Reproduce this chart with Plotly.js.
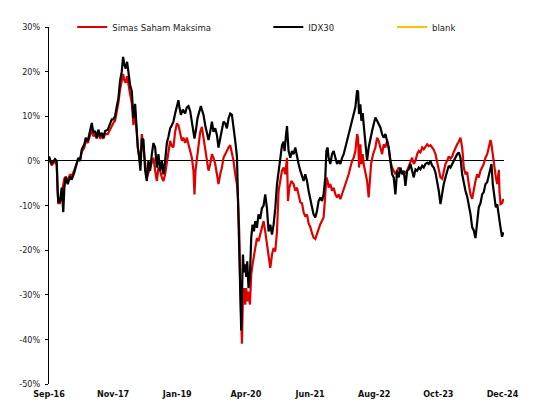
<!DOCTYPE html>
<html>
<head>
<meta charset="utf-8">
<script src="https://cdn.plot.ly/plotly-3.0.1.min.js"></script>
<style>
  html, body { margin: 0; padding: 0; background: #ffffff; }
  #chart { width: 539px; height: 412px; }
</style>
</head>
<body>
<div id="chart"></div>
<script>
// X values are decimal years, Y values are cumulative relative performance in %
var idxX = [2016.667,2016.716,2016.776,2016.807,2016.825,2016.836,2016.867,2016.898,2016.927,2016.946,2016.971,2017.008,2017.049,2017.080,2017.128,2017.171,2017.200,2017.231,2017.263,2017.310,2017.335,2017.372,2017.414,2017.445,2017.474,2017.505,2017.536,2017.565,2017.596,2017.627,2017.656,2017.687,2017.736,2017.778,2017.809,2017.838,2017.869,2017.900,2017.929,2017.960,2017.991,2018.015,2018.039,2018.064,2018.088,2018.111,2018.142,2018.173,2018.203,2018.234,2018.252,2018.283,2018.306,2018.330,2018.356,2018.385,2018.416,2018.447,2018.476,2018.507,2018.538,2018.567,2018.598,2018.629,2018.658,2018.689,2018.720,2018.749,2018.780,2018.811,2018.840,2018.871,2018.902,2018.931,2018.962,2018.993,2019.022,2019.040,2019.066,2019.102,2019.144,2019.175,2019.204,2019.235,2019.266,2019.295,2019.314,2019.345,2019.368,2019.405,2019.430,2019.448,2019.478,2019.509,2019.540,2019.569,2019.600,2019.631,2019.660,2019.691,2019.722,2019.751,2019.782,2019.813,2019.842,2019.873,2019.904,2019.933,2019.964,2019.995,2020.024,2020.055,2020.086,2020.104,2020.128,2020.146,2020.164,2020.177,2020.195,2020.214,2020.237,2020.255,2020.274,2020.297,2020.323,2020.346,2020.370,2020.396,2020.419,2020.450,2020.479,2020.510,2020.541,2020.571,2020.601,2020.632,2020.662,2020.693,2020.724,2020.753,2020.784,2020.815,2020.844,2020.875,2020.906,2020.935,2020.953,2020.979,2020.997,2021.026,2021.057,2021.088,2021.117,2021.148,2021.179,2021.208,2021.239,2021.270,2021.299,2021.330,2021.361,2021.390,2021.421,2021.452,2021.481,2021.512,2021.543,2021.572,2021.603,2021.634,2021.663,2021.694,2021.713,2021.736,2021.754,2021.785,2021.816,2021.846,2021.877,2021.908,2021.937,2021.968,2021.999,2022.028,2022.059,2022.090,2022.119,2022.150,2022.181,2022.210,2022.241,2022.272,2022.290,2022.308,2022.332,2022.350,2022.374,2022.392,2022.423,2022.454,2022.483,2022.514,2022.545,2022.574,2022.605,2022.636,2022.665,2022.696,2022.727,2022.756,2022.787,2022.818,2022.847,2022.878,2022.909,2022.938,2022.969,2023.000,2023.030,2023.061,2023.091,2023.121,2023.152,2023.183,2023.212,2023.243,2023.273,2023.303,2023.334,2023.365,2023.394,2023.425,2023.456,2023.485,2023.516,2023.547,2023.576,2023.607,2023.638,2023.667,2023.698,2023.729,2023.758,2023.789,2023.820,2023.849,2023.880,2023.911,2023.940,2023.971,2024.002,2024.031,2024.062,2024.093,2024.122,2024.153,2024.184,2024.213,2024.244,2024.275,2024.304,2024.335,2024.366,2024.395,2024.426,2024.457,2024.486,2024.517,2024.548,2024.577,2024.608,2024.639,2024.668,2024.699,2024.717,2024.741,2024.772,2024.796,2024.821,2024.851,2024.882,2024.909,2024.936];
var idxY = [1.0,-0.7,0.4,0,-6.7,-9.3,-9.0,-6.0,-11.5,-6.0,-3.7,-5.2,-3.5,-4.2,-2.6,-0.4,0.7,0,2.6,3.7,5.2,4.4,6.7,8.5,6.3,6.7,5.2,7.0,5.5,6.3,5.2,6.7,7.0,8.1,9.3,9.3,10.0,12.2,14.0,18.0,20.0,23.3,21.5,20.7,22.2,20.0,17.0,15.6,9.6,12.8,8.5,3.0,1.1,-2.2,5.0,4.7,-2.2,-4.5,0,-2.2,1.5,4.0,3.0,-1.5,1.5,-2.2,0,-3.0,0,4.0,5.4,7.3,8.0,8.8,10.6,12.5,13.6,12.0,10.3,11.5,10.6,12.0,12.3,11.2,8.8,6.5,5.0,7.3,9.5,11.2,12.3,11.5,10.3,8.0,5.8,4.7,6.5,8.8,6.5,7.3,5.8,3.0,5.0,7.3,8.8,8.4,7.3,9.5,10.6,10.3,7.8,4.5,1.0,-8.3,-19.5,-27,-38,-30.6,-21,-25,-23.2,-26,-22.5,-28.5,-25.5,-17.3,-14.3,-15.8,-13.5,-15,-12,-13,-10.6,-10,-7.5,-10.6,-15.8,-14.3,-16.5,-14.3,-10.6,-5.2,-2.2,0,3.5,4.3,2.2,5.8,7.8,2.2,0.7,2.2,1.5,3.0,0.7,-0.7,-2.2,-3.7,-4.5,-3.0,-4.5,-6.7,-9.0,-10.4,-12.0,-12.7,-11.2,-9.0,-8.2,-9.0,-7.5,-3.7,2.2,3.0,0.7,-0.7,1.5,2.2,0.7,-0.7,0,-0.7,0.7,1.5,3.0,4.5,6.0,7.5,9.0,10.7,12.0,15.8,15.5,10.5,12.7,9.0,10.7,8.2,3.0,0,3.0,5.2,6.7,8.2,9.7,9.0,8.2,7.5,6.0,5.2,6.0,4.5,3.0,0,-3.0,-3.7,-7.5,-2.2,-3.7,-1.5,-3.0,-2.2,-5.6,-2.2,-1.9,-0.7,-2.6,-3.7,-1.9,-2.2,-1.5,-1.9,-1.1,-1.5,-0.7,-0.4,-0.7,0,-1.1,-1.5,-2.6,-4.5,-6.7,-9.7,-6.7,-5.2,-3.7,-2.2,-1.1,-1.5,-0.7,0,0.7,1.5,1.9,0.7,-3.0,-5.0,-6.7,-8.0,-9.7,-11.9,-14.9,-15.6,-17.3,-13.0,-10.4,-9.5,-7.5,-7.0,-5.2,-4.8,-3.0,-1.0,-0.7,-5.2,-8.2,-10.4,-9.7,-12.7,-15.0,-17.0,-16.0];

var fundX = [2016.667,2016.716,2016.776,2016.807,2016.825,2016.836,2016.867,2016.898,2016.927,2016.946,2016.971,2017.008,2017.049,2017.080,2017.128,2017.171,2017.200,2017.231,2017.263,2017.310,2017.335,2017.372,2017.414,2017.445,2017.474,2017.505,2017.536,2017.565,2017.596,2017.627,2017.656,2017.687,2017.736,2017.778,2017.809,2017.838,2017.869,2017.900,2017.929,2017.960,2017.991,2018.015,2018.039,2018.064,2018.088,2018.111,2018.142,2018.173,2018.203,2018.234,2018.252,2018.283,2018.306,2018.330,2018.356,2018.385,2018.447,2018.507,2018.567,2018.598,2018.629,2018.658,2018.689,2018.720,2018.749,2018.780,2018.811,2018.840,2018.871,2018.902,2018.931,2018.962,2018.993,2019.022,2019.053,2019.084,2019.113,2019.144,2019.175,2019.204,2019.235,2019.266,2019.295,2019.314,2019.332,2019.357,2019.387,2019.418,2019.448,2019.478,2019.509,2019.540,2019.569,2019.600,2019.631,2019.660,2019.691,2019.722,2019.751,2019.782,2019.813,2019.842,2019.873,2019.904,2019.933,2019.964,2019.995,2020.024,2020.055,2020.086,2020.104,2020.128,2020.146,2020.177,2020.195,2020.214,2020.237,2020.255,2020.274,2020.297,2020.323,2020.346,2020.370,2020.396,2020.419,2020.450,2020.479,2020.510,2020.541,2020.571,2020.601,2020.632,2020.662,2020.693,2020.724,2020.753,2020.784,2020.815,2020.844,2020.875,2020.906,2020.935,2020.966,2020.997,2021.015,2021.039,2021.075,2021.117,2021.148,2021.179,2021.208,2021.239,2021.270,2021.299,2021.330,2021.361,2021.390,2021.421,2021.452,2021.481,2021.512,2021.543,2021.572,2021.603,2021.634,2021.663,2021.694,2021.713,2021.736,2021.754,2021.785,2021.816,2021.846,2021.877,2021.908,2021.937,2021.968,2021.999,2022.028,2022.059,2022.090,2022.119,2022.150,2022.181,2022.210,2022.241,2022.272,2022.290,2022.308,2022.332,2022.350,2022.374,2022.392,2022.423,2022.454,2022.483,2022.501,2022.527,2022.563,2022.605,2022.636,2022.665,2022.696,2022.727,2022.756,2022.787,2022.818,2022.847,2022.878,2022.909,2022.938,2022.969,2023.000,2023.030,2023.061,2023.121,2023.183,2023.243,2023.273,2023.303,2023.334,2023.365,2023.394,2023.425,2023.456,2023.485,2023.516,2023.547,2023.576,2023.607,2023.638,2023.667,2023.698,2023.729,2023.758,2023.789,2023.820,2023.849,2023.880,2023.911,2023.940,2023.971,2024.002,2024.031,2024.062,2024.093,2024.122,2024.153,2024.184,2024.213,2024.244,2024.275,2024.304,2024.335,2024.366,2024.395,2024.426,2024.457,2024.486,2024.517,2024.548,2024.577,2024.608,2024.639,2024.668,2024.699,2024.717,2024.741,2024.772,2024.796,2024.821,2024.851,2024.863,2024.882,2024.909,2024.936];
var fundY = [0.5,-1.0,0,-1.0,-7.0,-9.5,-9.5,-7.0,-5.0,-4.0,-3.5,-4.5,-3.0,-3.5,-2.0,-0.5,0.5,0,2.0,3.0,4.5,4.0,6.0,7.0,5.5,6.0,5.0,6.5,5.0,5.5,5.0,6.0,6.0,7.0,8.0,8.5,9.0,11.0,13.0,16.0,18.0,19.5,18.0,17.5,19.0,17.0,15.0,13.0,8.0,11.0,7.5,3.0,1.0,-1.0,6.0,3.0,-3.7,-1.5,0.7,-2.2,-4.5,-1.5,-2.2,-3.7,-4.5,-3.0,-0.7,2.2,4.5,3.3,3.0,6.5,8.4,8.0,6.5,4.5,5.2,4.0,5.2,3.7,2.6,0.7,-2.2,-7.5,-2.2,0.7,3.7,6.5,7.6,5.2,3.0,0,-2.2,-0.7,1.5,0.7,-0.7,-3.0,-5.2,-3.0,-1.5,0.7,1.5,2.5,3.0,3.5,2.0,0,-3.0,-5.2,-8.2,-15.8,-27,-41,-30.6,-28.5,-32.2,-28.5,-31.5,-29.3,-32.2,-25.5,-23.2,-21.0,-18.8,-17.3,-18.0,-16.5,-15.0,-13.5,-15.8,-18.8,-21.8,-24.0,-21.0,-19.5,-20.3,-15.8,-6.7,-4.5,-2.2,-1.5,-3.0,0.7,-9.0,-6.0,-4.5,-5.2,-6.7,-6.0,-7.5,-9.3,-9.5,-11.5,-12.5,-12.0,-14.0,-14.8,-16.2,-17.2,-17.5,-16.4,-15.0,-14.2,-13.4,-12.7,-7.5,-3.7,-4.5,-6.0,-5.2,-6.7,-6.0,-7.5,-8.2,-7.5,-8.6,-7.5,-6.7,-5.2,-4.5,-3.0,-1.5,0,0.7,2.2,6.0,5.2,-1.5,3.7,-0.7,1.5,-0.7,-3.0,-4.5,-8.2,-4.5,-0.7,1.5,3.0,5.2,4.5,3.0,1.5,3.7,3.0,4.5,3.0,0,-1.5,-2.2,-3.0,-2.2,-1.5,-2.2,-3.0,-2.2,0,0.7,-0.7,0,1.5,2.2,1.9,3.0,2.6,3.3,3.7,3.3,3.5,3.0,2.5,1.5,-0.5,-2.2,-3.7,-4.0,-2.2,-0.7,0,1.0,0.5,1.0,2.0,3.0,3.7,4.3,5.2,3.0,-1.5,-3.0,-2.5,-5.2,-7.5,-8.5,-6.0,-4.5,-3.0,-3.7,-2.2,-1.5,-0.7,0.7,1.5,3.0,4.7,3.7,1.5,-2.2,-3.7,-5.2,-2.0,-7.0,-9.7,-9.5,-8.5];

var blankX = [null];
var blankY = [null];

var seriesNames = ['Simas Saham Maksima', 'IDX30', 'blank'];
var tickVals = [2016.667, 2017.833, 2019.0, 2020.25, 2021.417, 2022.583, 2023.75, 2024.917];
var tickText = ['Sep-16', 'Nov-17', 'Jan-19', 'Apr-20', 'Jun-21', 'Aug-22', 'Oct-23', 'Dec-24'];
var yTickVals = [-50, -40, -30, -20, -10, 0, 10, 20, 30];
var yTickText = ['-50%', '-40%', '-30%', '-20%', '-10%', '0%', '10%', '20%', '30%'];

var FONT = '"DejaVu Sans Condensed", "DejaVu Sans", sans-serif';

var traces = [
  { x: fundX, y: fundY, name: seriesNames[0], type: 'scatter', mode: 'lines',
    line: { color: '#e00000', width: 2.2 }, legend: 'legend' },
  { x: idxX, y: idxY, name: seriesNames[1], type: 'scatter', mode: 'lines',
    line: { color: '#000000', width: 2.2 }, legend: 'legend2' },
  { x: blankX, y: blankY, name: seriesNames[2], type: 'scatter', mode: 'lines',
    line: { color: '#ffc000', width: 2.2 }, legend: 'legend3' }
];

var legendBase = {
  orientation: 'h', xanchor: 'left', yanchor: 'middle', y: 1.0,
  bgcolor: 'rgba(0,0,0,0)', borderwidth: 0,
  font: { family: FONT, size: 9.5, color: '#222222' }
};

var layout = {
  width: 539, height: 412,
  margin: { l: 49, r: 35, t: 25, b: 28 },
  paper_bgcolor: '#ffffff', plot_bgcolor: '#ffffff',
  showlegend: true,
  legend: Object.assign({}, legendBase, { x: 0.051 }),
  legend2: Object.assign({}, legendBase, { x: 0.482 }),
  legend3: Object.assign({}, legendBase, { x: 0.754 }),
  xaxis: {
    type: 'linear', range: [2016.667, 2024.945],
    tickmode: 'array', tickvals: tickVals, ticktext: tickText,
    showgrid: false, zeroline: false, showline: false, ticks: '',
    tickfont: { family: FONT, size: 9, color: '#111111', weight: 'bold' },
    ticklabelstandoff: 3
  },
  yaxis: {
    range: [-50, 30], tickmode: 'array', tickvals: yTickVals, ticktext: yTickText,
    showgrid: false, zeroline: true, zerolinecolor: '#000000', zerolinewidth: 1,
    showline: true, linecolor: '#000000', linewidth: 1,
    ticks: 'outside', ticklen: 3, tickcolor: '#000000',
    tickfont: { family: FONT, size: 9, color: '#222222' },
    ticklabelstandoff: 3
  }
};

Plotly.newPlot('chart', traces, layout, { displayModeBar: false, staticPlot: true });
</script>
</body>
</html>
